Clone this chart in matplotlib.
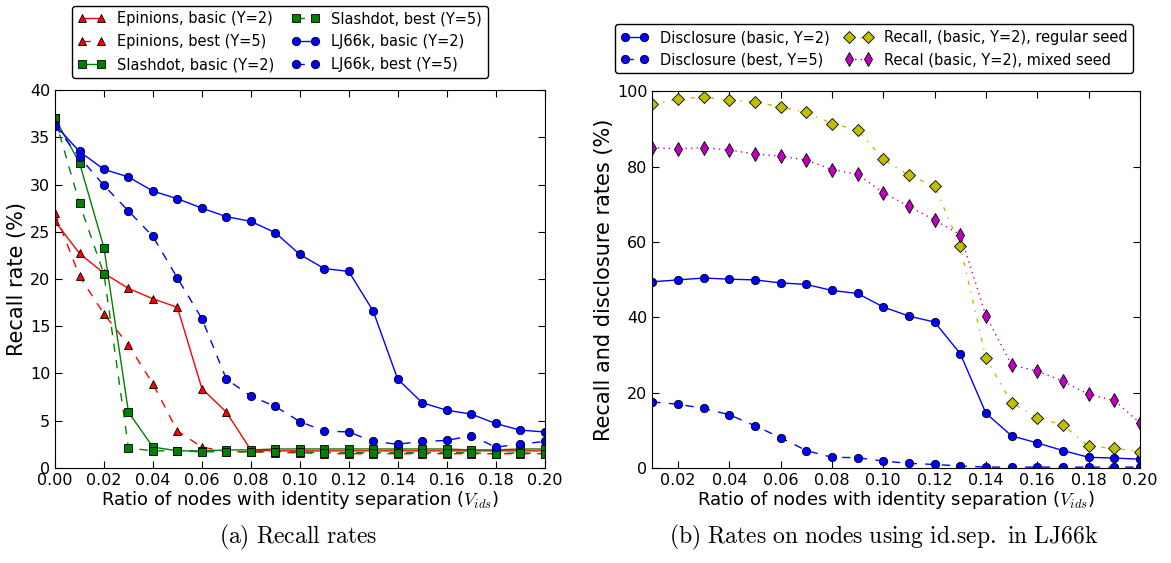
import numpy as np
import matplotlib
matplotlib.use("Agg")
import matplotlib.pyplot as plt

plt.rcParams['mathtext.fontset'] = 'cm'
plt.rcParams['xtick.direction'] = 'in'
plt.rcParams['ytick.direction'] = 'in'
plt.rcParams['xtick.top'] = True
plt.rcParams['ytick.right'] = True
plt.rcParams['xtick.major.size'] = 5
plt.rcParams['ytick.major.size'] = 5
plt.rcParams['lines.linewidth'] = 1.0
# classic-looking dash patterns
plt.rcParams['lines.dashed_pattern'] = [6, 6]
plt.rcParams['lines.dashdot_pattern'] = [3, 5, 1, 5]
plt.rcParams['lines.dotted_pattern'] = [1, 3]
plt.rcParams['lines.scale_dashes'] = False

# Left panel: recall rates
x_left = [0.00, 0.01, 0.02, 0.03, 0.04, 0.05, 0.06, 0.07, 0.08, 0.09, 0.10,
          0.11, 0.12, 0.13, 0.14, 0.15, 0.16, 0.17, 0.18, 0.19, 0.20]
epinions_basic = [26.1, 22.7, 20.6, 19.0, 17.9, 17.0, 8.4, 5.9, 1.9, 1.8, 1.8,
                  1.8, 1.8, 1.8, 1.8, 1.8, 1.8, 1.8, 1.8, 1.8, 1.8]
epinions_best = [27.0, 20.3, 16.3, 13.0, 8.9, 3.9, 2.2, 1.7, 1.7, 1.6, 1.6,
                 1.5, 1.5, 1.5, 1.5, 1.5, 1.5, 1.5, 1.5, 1.5, 1.5]
slashdot_basic = [37.0, 32.3, 23.3, 5.9, 2.2, 1.8, 1.8, 1.9, 1.9, 2.0, 2.0,
                  2.0, 2.0, 2.0, 2.0, 2.0, 2.0, 1.9, 1.9, 2.0, 2.0]
slashdot_best = [37.0, 28.0, 20.5, 2.1, 1.8, 1.8, 1.7, 1.7, 1.7, 1.7, 1.7,
                 1.6, 1.6, 1.6, 1.6, 1.6, 1.6, 1.6, 1.5, 1.6, 1.5]
lj_basic = [36.3, 33.5, 31.6, 30.8, 29.3, 28.5, 27.5, 26.6, 26.1, 24.9, 22.6,
            21.1, 20.8, 16.6, 9.4, 6.9, 6.1, 5.7, 4.7, 4.0, 3.8]
lj_best = [36.2, 32.9, 29.9, 27.2, 24.5, 20.1, 15.8, 9.4, 7.6, 6.5, 4.9,
           3.9, 3.8, 2.8, 2.5, 2.8, 2.9, 3.4, 2.2, 2.5, 2.8]

# Right panel: rates on nodes using id.sep. in LJ66k
x_right = [0.01, 0.02, 0.03, 0.04, 0.05, 0.06, 0.07, 0.08, 0.09, 0.10,
           0.11, 0.12, 0.13, 0.14, 0.15, 0.16, 0.17, 0.18, 0.19, 0.20]
disc_basic = [49.4, 49.9, 50.4, 50.1, 49.9, 49.1, 48.7, 47.1, 46.3, 42.7,
              40.3, 38.7, 30.3, 14.5, 8.5, 6.6, 4.6, 2.8, 2.6, 2.3]
disc_best = [17.5, 16.9, 15.8, 14.1, 11.2, 8.0, 4.6, 2.8, 2.7, 1.8,
             1.2, 0.9, 0.5, 0.2, 0.2, 0.2, 0.2, 0.2, 0.2, 0.2]
recall_regular = [96.5, 97.9, 98.5, 97.6, 97.2, 95.8, 94.4, 91.4, 89.7, 81.9,
                  77.7, 74.8, 58.9, 29.1, 17.3, 13.3, 11.4, 5.7, 5.2, 4.3]
recall_mixed = [85.0, 84.7, 85.0, 84.4, 83.3, 82.8, 81.7, 79.2, 77.9, 73.1,
                69.4, 65.8, 61.9, 40.4, 27.3, 25.7, 23.0, 19.5, 17.9, 11.9]

fig = plt.figure(figsize=(11.71, 5.63), dpi=100)
ax1 = fig.add_axes([0.047, 0.169, 0.418, 0.671])
ax2 = fig.add_axes([0.557, 0.169, 0.4165, 0.669])

ms = 6
ax1.plot(x_left, epinions_basic, 'r-', marker='^', ms=ms, mec='k', mew=0.6, label='Epinions, basic (Y=2)')
ax1.plot(x_left, epinions_best, 'r--', marker='^', ms=ms, mec='k', mew=0.6, label='Epinions, best (Y=5)')
ax1.plot(x_left, slashdot_basic, 'g-', marker='s', ms=ms, mec='k', mew=0.6, label='Slashdot, basic (Y=2)')
ax1.plot(x_left, slashdot_best, 'g--', marker='s', ms=ms, mec='k', mew=0.6, label='Slashdot, best (Y=5)')
ax1.plot(x_left, lj_basic, 'b-', marker='o', ms=ms, mec='k', mew=0.6, label='LJ66k, basic (Y=2)')
ax1.plot(x_left, lj_best, 'b--', marker='o', ms=ms, mec='k', mew=0.6, label='LJ66k, best (Y=5)')
ax1.set_xlim(0, 0.2)
ax1.set_ylim(0, 40)
ax1.set_xticks(np.arange(0, 0.201, 0.02))
ax1.set_xticklabels(['%.2f' % v for v in np.arange(0, 0.201, 0.02)])
ax1.set_ylabel('Recall rate (%)', fontsize=15, labelpad=2)
ax1.set_xlabel(r'Ratio of nodes with identity separation ($V_{ids}$)', fontsize=13, labelpad=1)
ax1.tick_params(labelsize=11.5)
fig.legend(handles=ax1.get_lines(), ncol=2, fontsize=10.5, numpoints=2,
           loc='upper left', bbox_to_anchor=(0.055, 1.003), handlelength=1.9,
           fancybox=True, edgecolor='k', framealpha=1, columnspacing=1.2,
           labelspacing=0.55)

yel = (0.75, 0.75, 0)
mag = (0.75, 0, 0.75)
ax2.plot(x_right, disc_basic, 'b-', marker='o', ms=ms, mec='k', mew=0.6, label='Disclosure (basic, Y=2)')
ax2.plot(x_right, disc_best, 'b--', marker='o', ms=ms, mec='k', mew=0.6, label='Disclosure (best, Y=5)')
ax2.plot(x_right, recall_regular, '-.', color=yel, marker='D', ms=ms, mfc=yel, mec='k', mew=0.6,
         label='Recall, (basic, Y=2), regular seed')
ax2.plot(x_right, recall_mixed, ':', color=mag, marker='d', ms=ms + 1, mfc=mag, mec='k', mew=0.6,
         label='Recal (basic, Y=2), mixed seed')
ax2.set_xlim(0.01, 0.2)
ax2.set_ylim(0, 100)
ax2.set_xticks(np.arange(0.02, 0.201, 0.02))
ax2.set_xticklabels(['%.2f' % v for v in np.arange(0.02, 0.201, 0.02)])
ax2.set_ylabel('Recall and disclosure rates (%)', fontsize=15, labelpad=2)
ax2.set_xlabel(r'Ratio of nodes with identity separation ($V_{ids}$)', fontsize=13, labelpad=1)
ax2.tick_params(labelsize=11.5)
fig.legend(handles=ax2.get_lines(), ncol=2, fontsize=10.5, numpoints=2,
           loc='upper left', bbox_to_anchor=(0.519, 0.97), handlelength=1.9,
           fancybox=True, edgecolor='k', framealpha=1, columnspacing=1.0)

fig.text(0.255, 0.035, r'$\mathrm{(a)\ Recall\ rates}$', ha='center', fontsize=17)
fig.text(0.755, 0.035, r'$\mathrm{(b)\ Rates\ on\ nodes\ using\ id.\!sep.\ in\ LJ66k}$',
         ha='center', fontsize=17)

fig.savefig('out.png', dpi=100, facecolor='white')
